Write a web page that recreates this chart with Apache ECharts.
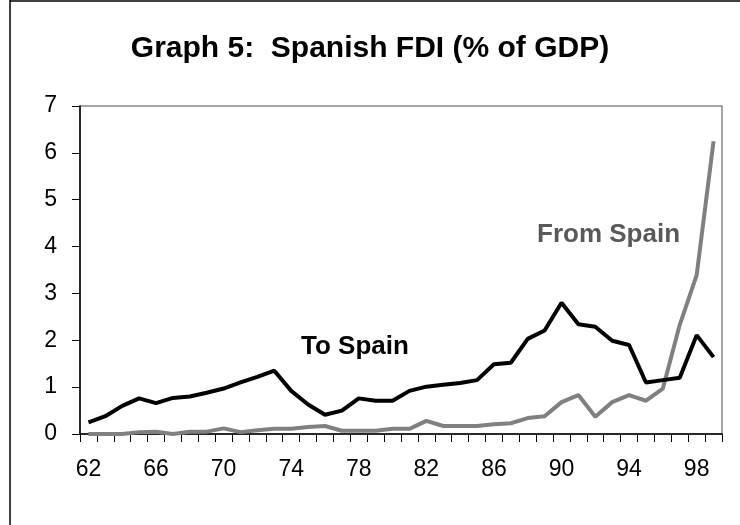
<!DOCTYPE html>
<html>
<head>
<meta charset="utf-8">
<script src="https://cdn.jsdelivr.net/npm/echarts@6/dist/echarts.min.js"></script>
<style>html,body{margin:0;padding:0;background:#fff}#c{width:740px;height:525px}</style>
</head>
<body>
<div id="c"></div>
<script>
const years = ['62','63','64','65','66','67','68','69','70','71','72','73','74','75','76','77','78','79','80','81','82','83','84','85','86','87','88','89','90','91','92','93','94','95','96','97','98','99'];
const toSpain = [0.25,0.38,0.6,0.76,0.66,0.77,0.8,0.88,0.97,1.1,1.22,1.35,0.92,0.63,0.41,0.5,0.76,0.71,0.71,0.92,1.01,1.05,1.09,1.15,1.49,1.52,2.03,2.21,2.8,2.34,2.29,1.99,1.9,1.1,1.15,1.2,2.11,1.64];
const fromSpain = [0,0,0,0.04,0.05,0,0.05,0.05,0.12,0.04,0.08,0.11,0.11,0.15,0.17,0.07,0.07,0.07,0.11,0.11,0.28,0.17,0.17,0.17,0.21,0.23,0.34,0.38,0.68,0.83,0.37,0.68,0.83,0.71,0.97,2.33,3.39,6.25];
const yTicks = [0,1,2,3,4,5,6,7];
const titleText = 'Graph 5:  Spanish FDI (% of GDP)';
const font = 'Liberation Sans, Arial, sans-serif';

const chart = echarts.init(document.getElementById('c'));
chart.setOption({
  animation: false,
  backgroundColor: '#fff',
  title: {
    text: titleText, left: 'center', top: 29,
    textStyle: {fontFamily: font, fontSize: 30, fontWeight: 'bold', color: '#000'}
  },
  grid: {left: 80, top: 106, right: 18, bottom: 91, show: true, borderColor: '#888', borderWidth: 1.5, backgroundColor: 'transparent'},
  xAxis: {
    type: 'category', data: years, boundaryGap: true,
    axisLine: {lineStyle: {color: '#000', width: 1.5}},
    axisTick: {show: true, interval: 0, length: 8, lineStyle: {color: '#000', width: 1}},
    axisLabel: {interval: 3, fontFamily: font, fontSize: 23, color: '#000', margin: 24},
    splitLine: {show: false}
  },
  yAxis: {
    type: 'value', min: yTicks[0], max: yTicks[yTicks.length-1], interval: 1,
    axisLine: {show: true, lineStyle: {color: '#000', width: 1.5}},
    axisTick: {show: true, length: 8, lineStyle: {color: '#000', width: 1}},
    axisLabel: {fontFamily: font, fontSize: 23, color: '#000', margin: 23},
    splitLine: {show: false}
  },
  series: [
    {name: 'To Spain', type: 'line', data: toSpain, symbol: 'none', lineStyle: {color: '#000', width: 4}, z: 3},
    {name: 'From Spain', type: 'line', data: fromSpain, symbol: 'none', lineStyle: {color: '#808080', width: 4}, z: 2}
  ],
  graphic: [
    {type: 'line', shape: {x1: 10, y1: 0, x2: 10, y2: 525}, style: {stroke: '#000', lineWidth: 1.5}},
    {type: 'line', shape: {x1: 10, y1: 1, x2: 740, y2: 1}, style: {stroke: '#000', lineWidth: 1.5}},
    {type: 'text', left: 301, top: 334, style: {text: 'To Spain', font: 'bold 26px ' + font, fill: '#000'}},
    {type: 'text', left: 537, top: 222, style: {text: 'From Spain', font: 'bold 26px ' + font, fill: '#595959'}}
  ]
});
</script>
</body>
</html>
